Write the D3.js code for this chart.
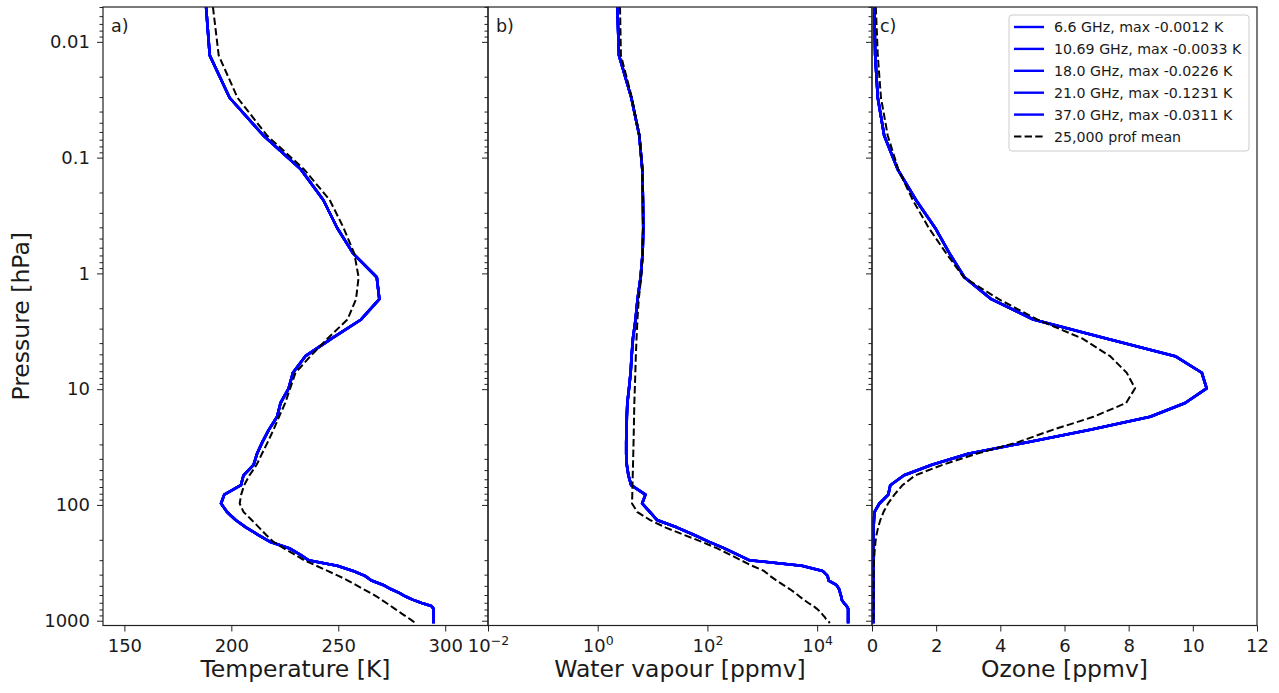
<!DOCTYPE html>
<html>
<head>
<meta charset="utf-8">
<script src="https://cdn.jsdelivr.net/npm/d3@7"></script>
<style>
  body { margin: 0; background: #fff; }
  text { font-family: "DejaVu Sans", sans-serif; }
</style>
</head>
<body>
<svg id="fig" width="1279" height="693"></svg>
<script>
// RTTOV 54 pressure levels [hPa]
const pressure = [0.005, 0.0131, 0.0304, 0.0644, 0.1263, 0.2324, 0.4052, 0.6749, 1.0801, 1.6691,
  2.5011, 3.6462, 5.1864, 7.215, 9.8368, 13.1672, 17.3308, 22.4601, 28.6937, 36.1735,
  45.043, 55.4433, 67.5109, 81.3744, 97.1505, 114.9415, 134.8318, 156.8846, 181.1394, 207.6092,
  236.2784, 267.1012, 300.0, 334.8648, 371.5529, 409.8893, 449.6677, 490.6516, 532.5769, 575.1538,
  618.0706, 660.9965, 703.5863, 745.4841, 786.3278, 825.7546, 863.4054, 898.9294, 931.9886, 962.2618,
  989.451, 1013.292, 1033.555, 1050.0];

// profile with the largest jacobian (same for every channel)
const tempProfile = [188.2, 189.9, 199.2, 215.0, 232.5, 243.0, 249.5, 257.0, 268.0, 269.2,
  260.7, 247.0, 234.6, 228.8, 226.8, 223.0, 221.4, 217.5, 214.5, 212.0,
  210.4, 205.7, 204.5, 196.7, 195.2, 198.0, 202.0, 207.0, 212.5, 218.0,
  227.0, 232.0, 236.0, 249.5, 257.0, 262.5, 265.5, 271.0, 274.5, 278.5,
  281.5, 285.0, 289.0, 293.5, 294.5, 294.5, 294.5, 294.5, 294.5, 294.5,
  294.5, 294.5, 294.5, 294.5];
const tempMean = [191.4, 194.1, 202.9, 216.7, 234.0, 246.0, 252.5, 257.5, 259.5, 258.3,
  254.3, 245.0, 237.0, 230.0, 227.5, 225.2, 222.3, 219.7, 217.0, 214.3,
  211.8, 208.5, 206.0, 204.6, 203.9, 205.7, 209.5, 213.0, 216.2, 219.6,
  224.4, 229.5, 234.0, 239.7, 245.0, 250.1, 254.5, 258.2, 261.7, 265.0,
  268.0, 270.3, 272.5, 274.5, 276.3, 278.0, 279.5, 280.9, 282.2, 283.3,
  284.2, 285.0, 285.7, 286.2];

const wvProfile = [2.28, 2.44, 4.10, 5.73, 6.50, 6.67, 6.77, 6.58, 6.05, 5.33,
  4.90, 4.39, 4.15, 3.98, 3.72, 3.47, 3.39, 3.35, 3.31, 3.31,
  3.39, 3.63, 4.07, 7.41, 6.46, 8.91, 12.0, 28.2, 56.2, 105,
  200, 347, 575, 5250, 12600, 15500, 16200, 22400, 25100, 26300,
  27500, 28200, 30900, 34300, 36700, 36700, 36700, 36700, 36700, 36700,
  36700, 36700, 36700, 36700];
const wvMean = [2.55, 2.65, 4.2, 5.75, 6.46, 6.7, 6.7, 6.6, 6.2, 5.6,
  5.3, 5.1, 4.95, 4.85, 4.75, 4.65, 4.6, 4.55, 4.5, 4.45,
  4.4, 4.35, 4.3, 4.27, 4.22, 5.25, 8.91, 17.4, 37.2, 77.6,
  148, 251, 407, 646, 1072, 1380, 1820, 2400, 3160, 3980,
  4790, 5750, 6920, 8510, 9770, 10960, 12020, 12880, 13800, 14450,
  15490, 16220, 16600, 16980];

const o3Profile = [0.07, 0.10, 0.18, 0.38, 0.80, 1.37, 1.97, 2.42, 2.88, 3.72,
  5.03, 7.30, 9.45, 10.28, 10.43, 9.76, 8.67, 6.80, 4.85, 3.00,
  1.87, 1.00, 0.57, 0.51, 0.23, 0.08, 0.06, 0.05, 0.05, 0.05,
  0.05, 0.05, 0.05, 0.05, 0.05, 0.05, 0.05, 0.05, 0.05, 0.05,
  0.05, 0.05, 0.04, 0.04, 0.04, 0.04, 0.04, 0.04, 0.04, 0.04,
  0.04, 0.04, 0.04, 0.04];
const o3Mean = [0.12, 0.18, 0.28, 0.49, 0.82, 1.27, 1.77, 2.32, 2.86, 3.95,
  5.15, 6.55, 7.42, 7.94, 8.20, 7.92, 6.90, 5.63, 4.55, 3.25,
  2.20, 1.35, 0.95, 0.70, 0.50, 0.36, 0.26, 0.19, 0.14, 0.11,
  0.09, 0.075, 0.065, 0.06, 0.055, 0.05, 0.05, 0.05, 0.05, 0.05,
  0.05, 0.05, 0.05, 0.05, 0.045, 0.045, 0.045, 0.045, 0.045, 0.04,
  0.04, 0.04, 0.04, 0.04];

const channels = ["6.6 GHz, max -0.0012 K", "10.69 GHz, max -0.0033 K", "18.0 GHz, max -0.0226 K",
  "21.0 GHz, max -0.1231 K", "37.0 GHz, max -0.0311 K"];
const meanLabel = "25,000 prof mean";

const yTicks = [0.01, 0.1, 1, 10, 100, 1000];
const yTickLabels = ["0.01", "0.1", "1", "10", "100", "1000"];
const tempTicks = [150, 200, 250, 300];
const wvTicks = [1e-2, 1e0, 1e2, 1e4];
const o3Ticks = [0, 2, 4, 6, 8, 10, 12];

const svg = d3.select("#fig");
svg.append("rect").attr("width", 1279).attr("height", 693).attr("fill", "#fff");

const yTop = 7, yBot = 625.5;
const y = d3.scaleLog().domain([0.005, 1100]).range([yTop, yBot]);
const yMinor = y.ticks().filter(v => !yTicks.some(t => Math.abs(t - v) / t < 1e-6));

const panels = [
  {tag: "a)", x: d3.scaleLinear().domain([140, 320]).range([103, 488]), ticks: tempTicks,
   label: "Temperature [K]", prof: tempProfile, mean: tempMean},
  {tag: "b)", x: d3.scaleLog().domain([1e-2, 1e5]).range([488, 872]), ticks: wvTicks,
   label: "Water vapour [ppmv]", prof: wvProfile, mean: wvMean, log: true},
  {tag: "c)", x: d3.scaleLinear().domain([0, 12]).range([872, 1257]), ticks: o3Ticks,
   label: "Ozone [ppmv]", prof: o3Profile, mean: o3Mean}
];

panels.forEach((p, i) => {
  const [x0, x1] = p.x.range();
  const g = svg.append("g");
  const clipId = "clip" + i;
  svg.append("clipPath").attr("id", clipId)
    .append("rect").attr("x", x0).attr("y", yTop).attr("width", x1 - x0).attr("height", yBot - yTop);

  const line = d3.line().x(d => p.x(d[1])).y(d => y(d[0]));
  const lines = g.append("g").attr("clip-path", `url(#${clipId})`);
  channels.forEach(() => {
    lines.append("path").datum(d3.zip(pressure, p.prof))
      .attr("d", line).attr("fill", "none")
      .attr("stroke", "#0000ff").attr("stroke-width", 2.6).attr("stroke-linejoin", "round");
  });
  lines.append("path").datum(d3.zip(pressure, p.mean))
    .attr("d", line).attr("fill", "none")
    .attr("stroke", "#000").attr("stroke-width", 2).attr("stroke-dasharray", "7.4,3.2");

  // x axis
  const xAxis = d3.axisBottom(p.x).tickValues(p.ticks).tickSize(6).tickPadding(8).tickSizeOuter(0);
  if (p.log) xAxis.tickFormat(() => "");
  const ax = g.append("g").attr("transform", `translate(0,${yBot})`).call(xAxis);
  if (p.log) {
    ax.selectAll(".tick text").each(function(d) {
      const t = d3.select(this);
      t.append("tspan").text("10");
      t.append("tspan").attr("font-size", 12.5).attr("dy", "-0.55em")
        .text(String(Math.round(Math.log10(d))).replace("-", "\u2212"));
    });
  }

  // y axis, labels only on the first panel
  const yAxis = d3.axisLeft(y).tickValues(yTicks).tickSize(6).tickPadding(7).tickSizeOuter(0)
    .tickFormat((d, k) => i === 0 ? yTickLabels[k] : "");
  g.append("g").attr("transform", `translate(${x0},0)`).call(yAxis);
  g.append("g").attr("transform", `translate(${x0},0)`)
    .call(d3.axisLeft(y).tickValues(yMinor).tickSize(3.5).tickFormat("").tickSizeOuter(0));

  g.selectAll(".domain").remove();
  g.selectAll(".tick line").attr("stroke", "#222").attr("stroke-width", 1);
  g.selectAll(".tick text").attr("font-size", 18).attr("font-family", "DejaVu Sans").attr("fill", "#1a1a1a");

  g.append("rect").attr("x", x0).attr("y", yTop).attr("width", x1 - x0).attr("height", yBot - yTop)
    .attr("fill", "none").attr("stroke", "#222").attr("stroke-width", 1.2);

  g.append("text").attr("x", x0 + 8).attr("y", 32).attr("font-size", 17.5).attr("fill", "#1a1a1a").text(p.tag);
  g.append("text").attr("x", (x0 + x1) / 2).attr("y", 677).attr("text-anchor", "middle")
    .attr("font-size", 23.5).attr("fill", "#1a1a1a").text(p.label);
});

svg.append("text").attr("transform", `translate(29,${(yTop + yBot) / 2}) rotate(-90)`)
  .attr("text-anchor", "middle").attr("font-size", 23.5).attr("fill", "#1a1a1a").text("Pressure [hPa]");

// legend
const legend = svg.append("g");
legend.append("rect").attr("x", 1009).attr("y", 15).attr("width", 240).attr("height", 136).attr("rx", 3)
  .attr("fill", "#fff").attr("fill-opacity", 0.8).attr("stroke", "#ccc");
const entries = channels.map(c => ({label: c, color: "#0000ff", dash: null}))
  .concat([{label: meanLabel, color: "#000", dash: "7.4,3.2"}]);
entries.forEach((e, k) => {
  const cy = 27 + k * 21.9;
  legend.append("line").attr("x1", 1014).attr("x2", 1044).attr("y1", cy).attr("y2", cy)
    .attr("stroke", e.color).attr("stroke-width", e.dash ? 2 : 2.4).attr("stroke-dasharray", e.dash);
  legend.append("text").attr("x", 1054).attr("y", cy).attr("dy", "0.36em")
    .attr("font-size", 14.2).attr("fill", "#1a1a1a").text(e.label);
});
</script>
</body>
</html>
